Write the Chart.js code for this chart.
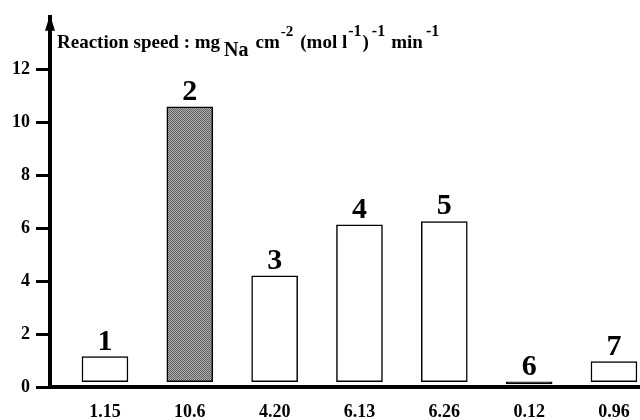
<!DOCTYPE html>
<html>
<head>
<meta charset="utf-8">
<script src="https://cdn.jsdelivr.net/npm/chart.js@4/dist/chart.umd.min.js"></script>
<style>
  html, body { margin: 0; padding: 0; background: #fff; }
  #wrap { width: 640px; height: 420px; }
</style>
</head>
<body>
<div id="wrap"><canvas id="speedChart" width="640" height="420"></canvas></div>
<script>
// ── Data ────────────────────────────────────────────────────────────────────
const sampleIds   = [1, 2, 3, 4, 5, 6, 7];
const speeds      = [1.15, 10.6, 4.20, 6.13, 6.26, 0.12, 0.96];
const speedLabels = ['1.15', '10.6', '4.20', '6.13', '6.26', '0.12', '0.96'];
const yTicks      = [0, 2, 4, 6, 8, 10, 12];

const SERIF = '"Liberation Serif", "DejaVu Serif", serif';

// dithered grey fill for sample 2
function ditherPattern() {
  const c = document.createElement('canvas');
  c.width = 2; c.height = 2;
  const g = c.getContext('2d');
  g.fillStyle = '#b4b4b4'; g.fillRect(0, 0, 2, 2);
  g.fillStyle = '#5c5c5c'; g.fillRect(0, 0, 1, 1); g.fillRect(1, 1, 1, 1);
  return g.createPattern(c, 'repeat');
}

const ctx = document.getElementById('speedChart').getContext('2d');
const fills = sampleIds.map((id, i) => i === 1 ? ditherPattern() : (i === 5 ? '#000' : '#fff'));

// ── Plugins: bar numbers, axis arrow, y title ───────────────────────────────
const barNumbers = {
  id: 'barNumbers',
  afterDatasetsDraw(chart) {
    const c = chart.ctx;
    const meta = chart.getDatasetMeta(0);
    c.save();
    c.font = 'bold 30px ' + SERIF;
    c.fillStyle = '#000';
    c.textAlign = 'center';
    c.textBaseline = 'alphabetic';
    meta.data.forEach((bar, i) => {
      const top = Math.min(bar.y, bar.base);
      c.fillText(String(sampleIds[i]), bar.x, top - 7);
    });
    c.restore();
  }
};

const axisDecor = {
  id: 'axisDecor',
  afterDraw(chart) {
    const c = chart.ctx;
    const a = chart.chartArea;
    const x = a.left;
    c.save();
    c.fillStyle = '#000';
    c.strokeStyle = '#000';
    // arrow head on the y axis
    c.beginPath();
    c.moveTo(x, a.top - 2);
    c.lineTo(x - 5, a.top + 14);
    c.lineTo(x + 5, a.top + 14);
    c.closePath();
    c.fill();

    // y title with sub/superscripts: [text, y shift, font size, gap after]
    const parts = [
      ['Reaction speed : mg', 0, 19, 4],
      ['Na', 8, 20, 7],
      ['cm', 0, 19, 1],
      ['-2', -12, 15, 7],
      ['(mol l', 0, 19, 1],
      ['-1', -12, 16, 1],
      [')', 0, 19, 3],
      ['-1', -12, 16, 6],
      ['min', 0, 19, 3],
      ['-1', -12, 16, 0]
    ];
    let tx = x + 7;
    const base = 48;
    c.textBaseline = 'alphabetic';
    c.textAlign = 'left';
    parts.forEach(([t, dy, size, gap]) => {
      c.font = 'bold ' + size + 'px ' + SERIF;
      c.fillText(t, tx, base + dy);
      tx += c.measureText(t).width + gap;
    });
    c.restore();
  }
};

// ── Chart ───────────────────────────────────────────────────────────────────
new Chart(ctx, {
  type: 'bar',
  data: {
    datasets: [{
      data: sampleIds.map((id, i) => ({ x: id, y: speeds[i] })),
      base: 0.2,
      backgroundColor: fills,
      borderColor: '#000',
      borderWidth: 1.5,
      borderSkipped: false,
      barThickness: 46
    }]
  },
  options: {
    responsive: false,
    animation: false,
    layout: { padding: { top: 13, right: 0, left: 0, bottom: 0 } },
    plugins: { legend: { display: false }, tooltip: { enabled: false } },
    scales: {
      x: {
        type: 'linear',
        offset: false,
        min: 0.352,
        max: 7.307,
        afterBuildTicks: s => { s.ticks = sampleIds.map(v => ({ value: v })); },
        afterFit: s => { s.height = 33; s.paddingRight = 0; s.paddingLeft = 0; },
        ticks: {
          autoSkip: false,
          maxRotation: 0,
          padding: 15,
          color: '#000',
          font: { family: SERIF, size: 18, weight: 'bold' },
          callback: v => speedLabels[sampleIds.indexOf(v)]
        },
        grid: { display: false, drawTicks: false, offset: false },
        border: { display: true, color: '#000', width: 4 }
      },
      y: {
        min: 0,
        max: 14,
        afterBuildTicks: s => { s.ticks = yTicks.map(v => ({ value: v })); },
        afterFit: s => { s.width = 50; },
        ticks: {
          padding: 6,
          color: '#000',
          font: { family: SERIF, size: 18, weight: 'bold' }
        },
        grid: { drawOnChartArea: false, drawTicks: true, tickLength: 14, tickWidth: 3, color: '#000' },
        border: { display: true, color: '#000', width: 4 }
      }
    }
  },
  plugins: [barNumbers, axisDecor]
});
</script>
</body>
</html>
